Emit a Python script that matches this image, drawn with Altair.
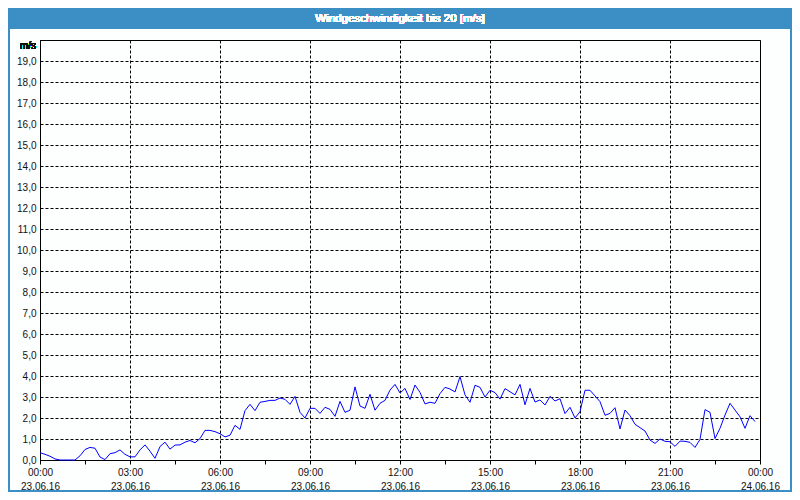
import altair as alt
import pandas as pd

title_text = "Windgeschwindigkeit bis 20 [m/s]"
unit_label = "m/s"

# 10-minute samples of 23.06.16, starting 00:00
sample_minutes = 10
wind_speed = [
    0.35, 0.27, 0.18, 0.05, 0.0, 0.0, 0.0, 0.0, 0.2, 0.5, 0.6, 0.56,
    0.14, 0.02, 0.3, 0.35, 0.48, 0.27, 0.15, 0.15, 0.48, 0.72, 0.42, 0.08,
    0.64, 0.85, 0.52, 0.71, 0.72, 0.85, 0.93, 0.82, 1.02, 1.41, 1.41, 1.35,
    1.25, 1.1, 1.18, 1.65, 1.46, 2.35, 2.65, 2.35, 2.75, 2.79, 2.84, 2.84,
    2.95, 2.89, 2.65, 3.03, 2.27, 2.0, 2.46, 2.46, 2.22, 2.51, 2.41, 2.08,
    2.79, 2.27, 2.37, 3.48, 2.57, 2.46, 3.13, 2.37, 2.70, 2.84, 3.33, 3.60,
    3.19, 3.41, 2.88, 3.57, 3.22, 2.67, 2.75, 2.70, 3.16, 3.46, 3.38, 3.24,
    3.97, 3.10, 2.75, 3.56, 3.46, 3.0, 3.32, 3.21, 2.90, 3.40, 3.25, 3.10,
    3.60, 2.63, 3.41, 2.76, 2.86, 2.62, 3.03, 2.81, 2.92, 2.21, 2.51, 2.0,
    2.3, 3.32, 3.32, 3.05, 2.78, 2.13, 2.22, 2.49, 1.48, 2.38, 2.11, 1.70,
    1.54, 1.38, 0.95, 0.79, 1.0, 0.89, 0.87, 0.65, 0.90, 0.89, 0.84, 0.60,
    0.98, 2.40, 2.27, 1.02, 1.51, 2.14, 2.70, 2.38, 2.06, 1.51, 2.11, 1.83,
]

tick_hours = [0, 1.5, 3, 4.5, 6, 7.5, 9, 10.5, 12, 13.5, 15, 16.5, 18, 19.5, 21, 22.5, 24]
label_hours = [0, 3, 6, 9, 12, 15, 18, 21, 24]
time_labels = ["00:00", "03:00", "06:00", "09:00", "12:00", "15:00", "18:00", "21:00", "00:00"]
date_labels = ["23.06.16"] * 8 + ["24.06.16"]
y_ticks = list(range(0, 21))

df = pd.DataFrame({
    "hour": [i * sample_minutes / 60 for i in range(len(wind_speed))],
    "speed": wind_speed,
})

label_map = "{" + ",".join(
    f"'{h:g}': ['{t}', '{d}']" for h, t, d in zip(label_hours, time_labels, date_labels)
) + "}"
x_label_expr = f"({label_map})[toString(datum.value)] || ''"

BLUE = "#3c8fc4"
FONT = "Liberation Sans"

x_enc = alt.X(
    "hour:Q",
    scale=alt.Scale(domain=[0, 24], nice=False, zero=False),
    axis=alt.Axis(
        title=None,
        values=tick_hours,
        labelExpr=x_label_expr,
        labelOverlap=False,
        labelFlush=False,
        labelBound=False,
        labelBaseline="top",
        labelPadding=3,
        labelLineHeight=14,
        labelFont=FONT,
        labelFontSize=10,
        labelColor="#111111",
        tickSize=4,
        tickColor="black",
        domainColor="black",
        grid=True,
        gridColor="black",
        gridDash=[3, 2],
        gridOpacity={"condition": {"test": "datum.value % 3 == 0", "value": 1}, "value": 0},
    ),
)
y_enc = alt.Y(
    "speed:Q",
    scale=alt.Scale(domain=[0, 20], nice=False),
    axis=alt.Axis(
        title=None,
        values=y_ticks,
        labelExpr="datum.value >= 20 ? '' : replace(format(datum.value, '.1f'), '.', ',')",
        ticks=False,
        labelPadding=4,
        labelFont=FONT,
        labelFontSize=10,
        labelColor="#111111",
        domainColor="black",
        grid=True,
        gridColor="black",
        gridDash=[3, 2],
        labelOverlap=False,
    ),
)

line = alt.Chart(df).mark_line(color="#0000ff", strokeWidth=1, interpolate="linear").encode(x=x_enc, y=y_enc)

frame = alt.Chart(df).mark_rect(filled=False, stroke=BLUE, strokeWidth=2).encode(
    x=alt.value(-31), x2=alt.value(751), y=alt.value(-31), y2=alt.value(451)
)
bar = alt.Chart(df).mark_rect(fill=BLUE, stroke=None).encode(
    x=alt.value(-32), x2=alt.value(752), y=alt.value(-32), y2=alt.value(-11)
)
title = alt.Chart(df).mark_text(
    text=title_text, color="white", font=FONT, fontSize=11.5, align="center", baseline="middle"
).encode(x=alt.value(360), y=alt.value(-21))
unit = alt.Chart(df).mark_text(
    text=unit_label, color="#111111", font=FONT, fontSize=10, align="right", baseline="middle"
).encode(x=alt.value(-4), y=alt.value(6))

chart = alt.layer(bar, frame, title, unit, line).properties(
    width=720,
    height=420,
    padding={"left": 32, "top": 32, "right": 32, "bottom": 32},
    autosize=alt.AutoSizeParams(type="none"),
).configure(background="#fdfefe").configure_view(stroke="black", strokeWidth=1)

chart.save("out.html", embed_options={"renderer": "svg", "actions": False})
